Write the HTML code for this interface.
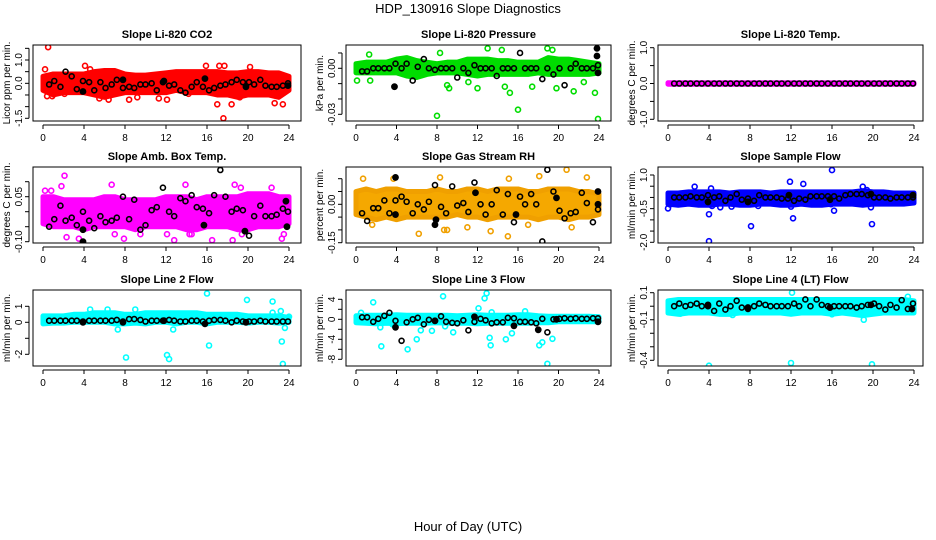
<!DOCTYPE html>
<html><head><meta charset="utf-8"><style>
html,body{margin:0;padding:0;background:#fff;}
svg{display:block;font-family:"Liberation Sans",sans-serif;}
</style></head><body>
<svg id="c" width="936" height="540" viewBox="0 0 936 540">
<rect width="936" height="540" fill="#fff"/>
<text x="468" y="13" text-anchor="middle" font-size="13">HDP_130916  Slope Diagnostics</text>
<text x="468" y="531" text-anchor="middle" font-size="13">Hour of Day (UTC)</text>
</svg>
<script>
const bandHours=[0,1,2,3,4,5,6,7,8,9,10,11,12,13,14,15,16,17,18,19,20,21,22,23,24];
const blackHours=[0.6,1.1,1.7,2.2,2.8,3.3,3.9,4.5,5.0,5.6,6.1,6.7,7.2,7.8,8.4,8.9,9.5,10.0,10.6,11.1,11.7,12.3,12.8,13.4,13.9,14.5,15.0,15.6,16.2,16.7,17.3,17.8,18.4,18.9,19.5,20.1,20.6,21.2,21.7,22.3,22.8,23.4,23.9];
const xTicks=[0,4,8,12,16,20,24];

const co2Low=[-0.3,-0.5,-0.4,-0.4,-0.4,-0.5,-0.6,-0.5,-0.4,-0.4,-0.4,-0.4,-0.4,-0.3,-0.4,-0.4,-0.4,-0.5,-0.5,-0.6,-0.5,-0.5,-0.5,-0.6,-0.3];
const co2High=[0.3,0.4,0.4,0.4,0.4,0.5,0.55,0.55,0.4,0.35,0.35,0.4,0.45,0.5,0.5,0.5,0.5,0.5,0.45,0.45,0.5,0.5,0.45,0.45,0.3];
const co2Out=[[0.5,1.55],[0.2,0.6],[4.1,0.75],[4.6,0.6],[15.9,0.75],[17.2,0.75],[17.7,0.75],[20.2,0.7],[0.4,-0.55],[0.9,-0.55],[2.1,-0.45],[5.5,-0.65],[6.4,-0.7],[8.4,-0.7],[9.2,-0.6],[11.3,-0.65],[12.1,-0.7],[17.0,-0.9],[17.6,-1.5],[18.4,-0.9],[19.2,-0.6],[22.6,-0.85],[23.4,-0.9],[14.2,-0.45]];
const co2Black=[-0.05,0.1,-0.15,0.5,0.3,-0.25,0.1,0.05,-0.3,0.05,-0.2,-0.05,0.15,-0.2,-0.15,-0.2,-0.05,-0.05,0,-0.3,0.05,-0.1,-0.05,-0.3,-0.4,-0.15,0.05,-0.15,-0.3,-0.2,-0.1,-0.05,0.05,0.15,0.05,0.05,-0.05,0.15,-0.1,-0.15,-0.15,-0.1,0];
const co2Extra=[[3.9,-0.35],[7.8,0.15],[11.8,0.1],[15.8,0.2],[19.8,-0.15],[23.9,-0.1]];

const presLow=[-0.003,-0.003,-0.003,-0.003,-0.003,-0.005,-0.006,-0.004,-0.003,-0.003,-0.003,-0.004,-0.005,-0.004,-0.004,-0.004,-0.004,-0.004,-0.003,-0.004,-0.004,-0.004,-0.004,-0.004,-0.003];
const presHigh=[0.003,0.004,0.004,0.004,0.006,0.007,0.005,0.004,0.003,0.004,0.004,0.006,0.006,0.006,0.005,0.005,0.004,0.004,0.004,0.007,0.006,0.006,0.005,0.004,0.003];
const presOut=[[0.1,-0.008],[1.4,-0.008],[1.3,0.009],[8.0,-0.031],[8.3,0.010],[9.0,-0.011],[9.2,-0.013],[12.0,-0.013],[13.0,0.013],[14.4,0.012],[14.7,-0.012],[15.2,-0.016],[16.0,-0.027],[17.4,-0.012],[18.9,0.013],[19.4,0.012],[19.8,-0.013],[21.5,-0.015],[23.6,-0.016],[23.9,-0.033],[22.5,-0.009],[11.1,-0.009]];
const presBlack=[-0.002,-0.002,0,0,0,0,0.003,0,0.003,-0.008,0.001,0.006,0,-0.001,0,0,0,-0.006,0,-0.003,0.002,0,0,0,-0.005,0,0,0,0.01,0,0,0,-0.007,0,-0.004,0,-0.011,0,0.003,0,0,0,0.002];
const presExtra=[[3.8,-0.012],[23.8,0.013],[23.8,0.008],[23.9,-0.003]];

const tempLow=[-0.02,-0.02,-0.02,-0.02,-0.02,-0.02,-0.02,-0.02,-0.02,-0.02,-0.02,-0.02,-0.02,-0.02,-0.02,-0.02,-0.02,-0.02,-0.02,-0.02,-0.02,-0.02,-0.02,-0.02,-0.02];
const tempHigh=[0.02,0.02,0.02,0.02,0.02,0.02,0.02,0.02,0.02,0.02,0.02,0.02,0.02,0.02,0.02,0.02,0.02,0.02,0.02,0.02,0.02,0.02,0.02,0.02,0.02];
const tempOut=[];
const tempBlack=[0,0,0,0,0,0,0,0,0,0,0,0,0,0,0,0,0,0,0,0,0,0,0,0,0,0,0,0,0,0,0,0,0,0,0,0,0,0,0,0,0,0,0];
const tempExtra=[];

const ambLow=[-0.04,-0.05,-0.05,-0.05,-0.06,-0.05,-0.05,-0.05,-0.05,-0.06,-0.05,-0.05,-0.05,-0.05,-0.06,-0.06,-0.05,-0.05,-0.05,-0.06,-0.06,-0.05,-0.05,-0.05,-0.04];
const ambHigh=[0.05,0.05,0.04,0.04,0.04,0.04,0.05,0.05,0.04,0.04,0.04,0.04,0.05,0.05,0.05,0.04,0.05,0.05,0.05,0.05,0.06,0.06,0.06,0.05,0.05];
const ambOut=[[0.2,0.07],[0.8,0.07],[1.8,0.085],[2.1,0.12],[6.7,0.09],[13.9,0.09],[18.7,0.09],[19.3,0.08],[22.3,0.08],[2.3,-0.085],[3.5,-0.09],[7.9,-0.09],[9.5,-0.075],[12.1,-0.075],[12.8,-0.095],[14.3,-0.075],[14.5,-0.075],[16.5,-0.095],[18.5,-0.095],[19.4,-0.075],[23.3,-0.09],[23.5,-0.075],[7.0,-0.075]];
const ambBlack=[-0.05,-0.025,0.02,-0.03,-0.02,-0.045,0,-0.03,-0.055,-0.015,-0.035,-0.03,-0.02,0.05,-0.025,0.04,-0.06,-0.045,0.005,0.015,0.08,0,-0.015,0.045,0.035,0.055,0.015,0.01,-0.005,0.055,0.139,0.05,0,0.01,0.005,-0.08,-0.015,0.02,-0.015,-0.015,-0.01,0.01,0];
const ambExtra=[[3.9,-0.1],[3.9,-0.06],[15.7,-0.045],[19.7,-0.065],[23.8,-0.05],[23.7,0.035]];

const rhLow=[-0.04,-0.05,-0.06,-0.05,-0.06,-0.05,-0.05,-0.05,-0.05,-0.05,-0.04,-0.05,-0.05,-0.06,-0.05,-0.05,-0.05,-0.05,-0.06,-0.05,-0.05,-0.06,-0.05,-0.05,-0.04];
const rhHigh=[0.05,0.06,0.05,0.06,0.06,0.05,0.05,0.05,0.06,0.05,0.05,0.06,0.06,0.05,0.06,0.06,0.06,0.05,0.05,0.06,0.06,0.06,0.05,0.05,0.04];
const rhOut=[[0.7,0.10],[3.7,0.10],[8.3,0.105],[15.1,0.10],[18.1,0.11],[20.8,0.135],[22.8,0.105],[6.2,-0.115],[8.7,-0.1],[15.0,-0.125],[9.0,-0.1],[17.0,-0.08],[21.3,-0.09],[1.6,-0.08],[11.0,-0.09],[13.3,-0.105]];
const rhBlack=[-0.035,-0.065,-0.015,-0.015,0.015,-0.035,0.015,0.03,0.01,-0.035,0,-0.02,0.01,0.075,-0.01,-0.035,0.07,-0.005,0.005,-0.03,0.085,0,-0.04,0,0.055,-0.04,0.04,-0.07,0.03,0,0.04,0,-0.145,0.135,0.05,-0.025,-0.055,-0.035,-0.03,0.045,0.005,-0.07,-0.02];
const rhExtra=[[3.9,0.105],[3.9,-0.04],[7.8,-0.08],[7.9,-0.06],[11.8,0.045],[15.8,-0.04],[19.8,0.025],[23.9,0.05],[23.9,0.0]];

const sfLow=[-0.3,-0.35,-0.3,-0.35,-0.35,-0.3,-0.3,-0.35,-0.35,-0.3,-0.3,-0.35,-0.35,-0.3,-0.35,-0.35,-0.3,-0.3,-0.3,-0.35,-0.3,-0.3,-0.3,-0.3,-0.25];
const sfHigh=[0.2,0.2,0.25,0.25,0.25,0.25,0.2,0.25,0.25,0.25,0.2,0.25,0.25,0.25,0.25,0.25,0.25,0.25,0.25,0.3,0.25,0.25,0.2,0.2,0.2];
const sfOut=[[0.0,-0.49],[0.2,-0.31],[2.6,0.48],[4.0,-0.75],[4.0,-1.95],[4.2,0.4],[4.3,-0.38],[5.1,-0.44],[6.2,-0.41],[8.1,-1.28],[8.8,-0.38],[11.9,0.7],[12.0,-0.41],[12.2,-0.93],[13.2,0.6],[15.9,-0.3],[16.0,1.22],[16.2,-0.59],[19.0,0.48],[19.4,0.33],[19.8,-0.44],[19.9,-1.19]];
const sfBlack=[0,0,0,0.05,0,0,0.1,0,0.05,-0.15,0,0.15,-0.1,-0.05,-0.15,0.1,0,0,0,-0.05,-0.05,-0.15,-0.05,-0.1,0.05,0.05,0.05,0.05,0.05,-0.05,0.1,0.15,0.15,0.15,0.1,0,0,0,-0.05,0,0,0,0];
const sfExtra=[[3.9,-0.2],[7.8,-0.2],[11.8,0.1],[15.8,-0.1],[19.8,0.15],[23.9,0.1]];

const l2Low=[-0.1,-0.05,-0.05,0,0,0,0,-0.1,-0.1,-0.05,-0.1,0,0,-0.1,0,0,-0.1,0,0,0,-0.05,0,0,-0.05,0];
const l2High=[0.4,0.4,0.4,0.5,0.5,0.6,0.6,0.6,0.5,0.5,0.6,0.6,0.6,0.6,0.6,0.6,0.5,0.5,0.5,0.5,0.4,0.4,0.4,0.4,0.3];
const l2Out=[[7.3,-0.45],[8.1,-2.2],[12.1,-2.05],[12.3,-2.3],[12.7,-0.45],[16.0,1.8],[16.2,-1.45],[19.9,1.4],[22.4,1.3],[22.4,0.6],[23.2,0.7],[23.3,-1.2],[23.4,-2.6],[23.6,-0.35],[24.0,0.35],[4.6,0.8],[9.0,0.8],[6.3,0.8]];
const l2Black=[0.1,0.1,0.1,0.1,0.1,0.1,0.05,0.1,0.1,0.1,0.1,0.1,0.15,0.05,0.2,0.2,0.15,0.05,0.1,0.1,0.1,0.15,0.1,0.05,0.05,0.1,0.1,0.05,0.1,0.15,0.15,0.1,0,0.1,0.05,0.05,0.05,0.1,0.05,0.05,0.05,0.05,0.05];
const l2Extra=[[3.9,0.0],[7.8,0.0],[11.8,0.1],[15.8,-0.1],[19.8,0.0]];

const l3Low=[-0.7,-0.8,-0.9,-0.8,-0.9,-0.8,-0.8,-0.8,-0.7,-0.8,-0.8,-0.8,-0.9,-0.8,-0.8,-0.8,-0.8,-0.8,-0.7,-0.7,-0.5,-0.5,-0.5,-0.5,-0.5];
const l3High=[0.7,0.8,0.8,0.8,0.9,0.8,0.8,0.8,0.8,0.8,0.7,0.8,0.9,0.8,0.8,0.8,0.9,0.9,0.7,0.6,0.6,0.6,0.6,0.6,0.5];
const l3Out=[[1.7,3.4],[2.5,-5.4],[5.1,-6.0],[6.0,-4.0],[8.6,4.6],[9.6,-2.6],[12.1,2.2],[12.7,4.2],[12.9,5.2],[13.2,-3.7],[13.3,-5.2],[14.8,-4.0],[15.4,-2.8],[18.1,-5.2],[18.4,-4.6],[18.9,-8.9],[19.4,-3.9],[6.4,-2.2],[7.5,-2.3],[13.4,1.4],[16.7,1.6],[3.6,-1.0],[2.4,-1.6],[0.5,1.3],[8.8,-1.4]];
const l3Black=[0.4,0.4,-0.5,0.1,0.7,1.3,-0.3,-4.3,-0.6,0,0.3,-1.0,-0.1,-0.3,0.6,-0.5,-0.7,-0.8,-0.2,-2.2,-0.5,0.1,-0.2,-0.8,-0.6,-0.6,0.3,0.2,-0.5,-0.5,-0.6,-0.8,0.1,-2.6,0,0.1,0.2,0.1,0.2,0.1,0.1,0.2,0.2];
const l3Extra=[[3.9,-1.6],[11.7,0.5],[15.6,-1.3],[18.0,-2.1],[7.8,-0.3],[19.8,0.0],[23.9,-0.5]];

const l4Low=[-0.05,-0.06,-0.05,-0.05,-0.05,-0.06,-0.06,-0.05,-0.05,-0.05,-0.05,-0.05,-0.06,-0.05,-0.05,-0.05,-0.06,-0.05,-0.06,-0.07,-0.06,-0.05,-0.05,-0.05,-0.05];
const l4High=[0.04,0.05,0.05,0.05,0.05,0.05,0.05,0.05,0.05,0.05,0.05,0.05,0.05,0.05,0.05,0.05,0.05,0.05,0.05,0.05,0.05,0.05,0.05,0.05,0.04];
const l4Out=[[4.0,-0.44],[12.0,-0.42],[19.9,-0.43],[12.1,0.1],[23.4,0.07],[19.1,-0.1],[16.0,-0.06],[1.2,-0.055],[0.8,0.04],[6.3,-0.065]];
const l4Black=[0,0.02,0,0.01,0.02,0,0,-0.035,0.02,-0.025,0,0.04,-0.01,-0.02,0,0.02,0.01,0,0,0,0,0.02,0,0.05,0,0.05,0.01,0,0,0,0,0,-0.01,0,0.01,0.02,0,-0.025,0.01,-0.01,0.045,-0.02,0.02];
const l4Extra=[[3.9,0.01],[7.8,-0.01],[15.8,-0.01],[19.8,0.01],[23.8,-0.02]];

const panels=[
 {name:'co2',title:'Slope Li-820 CO2',ylab:'Licor ppm per min.',col:'#ff0000',fill:'#ff0000',low:co2Low,high:co2High,out:co2Out,blk:co2Black,ext:co2Extra,
  box:[33,45,301,121],xp:[43,289],ya:[1.0,60,-1.5,118.3],ticks:[1.5,1.0,0.5,0,-0.5,-1.0,-1.5],labels:['1.0','0.0','-1.5'],lv:[1.0,0,-1.5]},
 {name:'pressure',title:'Slope Li-820 Pressure',ylab:'kPa per min.',col:'#00dd00',fill:'#00dd00',low:presLow,high:presHigh,out:presOut,blk:presBlack,ext:presExtra,
  box:[346,45,611,121],xp:[356,599],ya:[0,68.3,-0.03,114.3],ticks:[0.01,0,-0.01,-0.02,-0.03],labels:['0.00','-0.03'],lv:[0,-0.03]},
 {name:'temp',title:'Slope Li-820 Temp.',ylab:'degrees C per min.',col:'#ff00ff',fill:'#ff00ff',low:tempLow,high:tempHigh,out:tempOut,blk:tempBlack,ext:tempExtra,
  box:[658,45,923,121],xp:[668,914],ya:[1.0,47.7,-1.0,119.3],ticks:[1.0,0.5,0,-0.5,-1.0],labels:['1.0','0.0','-1.0'],lv:[1.0,0,-1.0]},
 {name:'amb-box-temp',title:'Slope Amb. Box Temp.',ylab:'degrees C per min.',col:'#ff00ff',fill:'#ff00ff',low:ambLow,high:ambHigh,out:ambOut,blk:ambBlack,ext:ambExtra,
  box:[33,167,301,243],xp:[43,289],ya:[0.05,196.7,-0.10,241.7],ticks:[0.10,0.05,0,-0.05,-0.10],labels:['0.05','-0.10'],lv:[0.05,-0.10]},
 {name:'rh',title:'Slope Gas Stream RH',ylab:'percent per min.',col:'#f0a000',fill:'#f5a800',low:rhLow,high:rhHigh,out:rhOut,blk:rhBlack,ext:rhExtra,
  box:[346,167,611,243],xp:[356,599],ya:[0,204.3,-0.15,242.7],ticks:[0.10,0.05,0,-0.05,-0.10,-0.15],labels:['0.00','-0.15'],lv:[0,-0.15]},
 {name:'sample-flow',title:'Slope Sample Flow',ylab:'ml/min per min.',col:'#0000ff',fill:'#0000ff',low:sfLow,high:sfHigh,out:sfOut,blk:sfBlack,ext:sfExtra,
  box:[658,167,923,243],xp:[668,914],ya:[1.0,175,-2.0,242.3],ticks:[1.0,0.5,0,-0.5,-1.0,-1.5,-2.0],labels:['1.0','-0.5','-2.0'],lv:[1.0,-0.5,-2.0]},
 {name:'line2-flow',title:'Slope Line 2 Flow',ylab:'ml/min per min.',col:'#00ffff',fill:'#00ffff',low:l2Low,high:l2High,out:l2Out,blk:l2Black,ext:l2Extra,
  box:[33,290,301,366],xp:[43,289],ya:[1,306.3,-2,354.3],ticks:[1,0,-1,-2],labels:['1','0','-2'],lv:[1,0,-2]},
 {name:'line3-flow',title:'Slope Line 3 Flow',ylab:'ml/min per min.',col:'#00ffff',fill:'#00ffff',low:l3Low,high:l3High,out:l3Out,blk:l3Black,ext:l3Extra,
  box:[346,290,611,366],xp:[356,599],ya:[4,299.3,-8,359.3],ticks:[4,2,0,-2,-4,-6,-8],labels:['4','0','-4','-8'],lv:[4,0,-4,-8]},
 {name:'line4-flow',title:'Slope Line 4 (LT) Flow',ylab:'ml/min per min.',col:'#00ffff',fill:'#00ffff',low:l4Low,high:l4High,out:l4Out,blk:l4Black,ext:l4Extra,
  box:[658,290,923,366],xp:[668,914],ya:[0.1,292.7,-0.4,360.3],ticks:[0.1,0,-0.1,-0.2,-0.3,-0.4],labels:['0.1','-0.1','-0.4'],lv:[0.1,-0.1,-0.4]}
];

const NS='http://www.w3.org/2000/svg';
const svg=document.getElementById('c');
function mk(tag,attrs,parent){const e=document.createElementNS(NS,tag);for(const k in attrs)e.setAttribute(k,attrs[k]);(parent||svg).appendChild(e);return e;}

panels.forEach(p=>{
  const g=mk('g',{});
  
  
  const [x0,y0,x1,y1]=p.box;
  const X=h=>p.xp[0]+(h/24)*(p.xp[1]-p.xp[0]);
  const Y=v=>p.ya[1]+(v-p.ya[0])*(p.ya[3]-p.ya[1])/(p.ya[2]-p.ya[0]);
  // title
  const t=mk('text',{x:(x0+x1)/2,y:y0-7,'text-anchor':'middle','font-size':11,'font-weight':'bold'},g);
  t.textContent=p.title;
  
  
  // y label
  const yl=mk('text',{x:0,y:0,'text-anchor':'middle','font-size':10,transform:`translate(${x0-23},${(y0+y1)/2}) rotate(-90)`},g);
  yl.textContent=p.ylab;
  
  
  // clip
  const cid='clip-'+p.name;
  const cp=mk('clipPath',{id:cid},g);mk('rect',{x:x0,y:y0,width:x1-x0,height:y1-y0},cp);
  const pg=mk('g',{'clip-path':`url(#${cid})`},g);
  // band
  let pts=[];
  bandHours.forEach((h,i)=>pts.push(X(h)+','+Y(p.high[i])));
  for(let i=bandHours.length-1;i>=0;i--)pts.push(X(bandHours[i])+','+Y(p.low[i]));
  const band=mk('polygon',{points:pts.join(' '),fill:p.fill,stroke:p.col,'stroke-width':5,'stroke-linejoin':'round'},pg);
  
  
  p.out.forEach(d=>{
    const c=mk('circle',{cx:X(d[0]),cy:Y(d[1]),r:2.5,fill:'none',stroke:p.col,'stroke-width':1.6},pg);
    
    
  });
  blackHours.forEach((h,i)=>{
    const c=mk('circle',{cx:X(h),cy:Y(p.blk[i]),r:2.5,fill:'none',stroke:'#000','stroke-width':1.6},pg);
    
    
  });
  p.ext.forEach(d=>{
    const c=mk('circle',{cx:X(d[0]),cy:Y(d[1]),r:2.8,fill:'#000',stroke:'#000','stroke-width':1.2},pg);
    
    
  });
  // box
  const b=mk('rect',{x:x0,y:y0,width:x1-x0,height:y1-y0,fill:'none',stroke:'#000','stroke-width':1},g);
  
  
  // x axis
  const ax=mk('g',{},g);
  
  
  const ay0=y1+4;
  mk('line',{x1:X(0),x2:X(24),y1:ay0,y2:ay0,stroke:'#000'},ax);
  xTicks.forEach(h=>{
    mk('line',{x1:X(h),x2:X(h),y1:ay0,y2:ay0+4,stroke:'#000'},ax);
    const l=mk('text',{x:X(h),y:y1+20,'text-anchor':'middle','font-size':10},ax);
    l.textContent=h;
    
    
  });
  // y axis
  const yax=mk('g',{},g);
  
  
  const axx=x0-4;
  const tp=p.ticks.map(Y);
  mk('line',{x1:axx,x2:axx,y1:Math.min(...tp),y2:Math.max(...tp),stroke:'#000'},yax);
  tp.forEach(py=>mk('line',{x1:axx-4,x2:axx,y1:py,y2:py,stroke:'#000'},yax));
  p.labels.forEach((s,i)=>{
    const py=Y(p.lv[i]);
    const l=mk('text',{x:0,y:0,'text-anchor':'middle','font-size':10,transform:`translate(${x0-11},${py}) rotate(-90)`},yax);
    l.textContent=s;
    
    
  });
});
</script>
</body></html>
